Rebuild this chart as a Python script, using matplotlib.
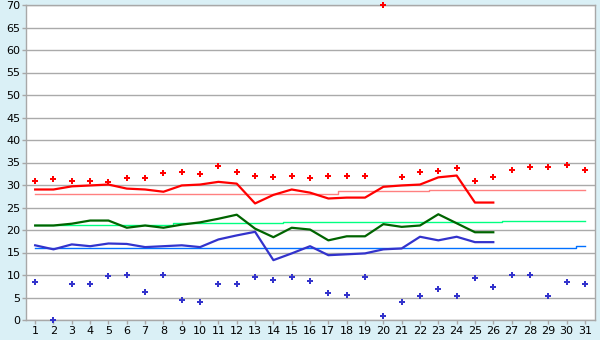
import matplotlib
matplotlib.use("Agg")
import matplotlib.pyplot as plt
import numpy as np

days = list(range(1, 32))

# daily max / min points (all 31 days)
maxPoints = [31.0, 31.3, 31.0, 31.0, 30.6, 31.6, 31.6, 32.6, 33.0, 32.4,
             34.2, 32.8, 31.9, 31.7, 31.9, 31.5, 32.1, 31.9, 31.9, 70.0,
             31.7, 33.0, 33.2, 33.8, 31.0, 31.7, 33.4, 34.1, 33.9, 34.4, 33.3]
minPoints = [8.4, 0.0, 7.9, 7.9, 9.7, 10.1, 6.2, 9.9, 4.4, 3.9,
             7.9, 7.9, 9.5, 9.0, 9.5, 8.6, 5.9, 5.5, 9.5, 1.0,
             3.9, 5.3, 7.0, 5.3, 9.3, 7.3, 9.9, 9.9, 5.3, 8.4, 8.1]

# this month's lines (days 1-26)
lineDays = days[:26]
highLine = [29.0, 29.0, 29.7, 29.9, 30.1, 29.2, 29.0, 28.5, 29.9, 30.1,
            30.7, 30.3, 25.9, 27.8, 29.0, 28.3, 27.0, 27.2, 27.2, 29.6,
            29.9, 30.1, 31.7, 32.1, 26.1, 26.1]
avgLine = [21.0, 21.0, 21.4, 22.1, 22.1, 20.5, 21.0, 20.5, 21.2, 21.7,
           22.5, 23.4, 20.3, 18.4, 20.5, 20.1, 17.7, 18.6, 18.6, 21.3,
           20.7, 21.0, 23.5, 21.5, 19.5, 19.5]
lowLine = [16.6, 15.7, 16.8, 16.4, 17.0, 16.9, 16.2, 16.4, 16.6, 16.2,
           17.9, 18.8, 19.6, 13.3, 14.8, 16.4, 14.4, 14.6, 14.8, 15.7,
           15.9, 18.5, 17.7, 18.5, 17.3, 17.3]

# long-term averages (thin step lines)
normHigh = [27.9] * 6 + [28.1] * 11 + [28.6] * 5 + [28.8] * 5 + [29.0] * 4
normAvg = [21.1] * 8 + [21.5] * 6 + [21.7] * 5 + [21.8] * 7 + [21.9] * 5
normLow = [15.9] * 20 + [16.1] * 10 + [16.4]

bgColor = "#daf0f6"
fig = plt.figure(figsize=(6, 3.4), dpi=100, facecolor=bgColor)
ax = fig.add_axes([26/600, 20/340, 569/600, 315/340])
ax.set_facecolor("white")

ax.plot(days, normHigh, color="#ff8080", lw=1.0, drawstyle="steps-mid", zorder=2)
ax.plot(days, normAvg, color="#00ff80", lw=1.0, drawstyle="steps-mid", zorder=2)
ax.plot(days, normLow, color="#0070ff", lw=1.0, drawstyle="steps-mid", zorder=2)

ax.plot(lineDays, highLine, color="#ff0000", lw=1.6, zorder=3)
ax.plot(lineDays, avgLine, color="#006400", lw=1.6, zorder=3)
ax.plot(lineDays, lowLine, color="#3333cc", lw=1.6, zorder=3)

ax.plot(days, maxPoints, ls="none", marker="P", ms=4, mew=0,
        color="#ff0000", zorder=4, clip_on=False)
ax.plot(days, minPoints, ls="none", marker="P", ms=4, mew=0,
        color="#3333cc", zorder=4, clip_on=False)

ax.set_xlim(0.5, 31.55)
ax.set_ylim(0, 70)
ax.set_yticks(np.arange(0, 71, 5))
ax.set_xticks(days)
ax.yaxis.grid(True, color="#aaaaaa", lw=1.0)
ax.set_axisbelow(True)
for s in ax.spines.values():
    s.set_color("#a8a8a8")
    s.set_linewidth(1.0)
ax.tick_params(axis="both", colors="#a8a8a8", labelcolor="black",
               labelsize=8, length=3, width=1, pad=1)

fig.savefig("out.png", dpi=100, facecolor=bgColor)
